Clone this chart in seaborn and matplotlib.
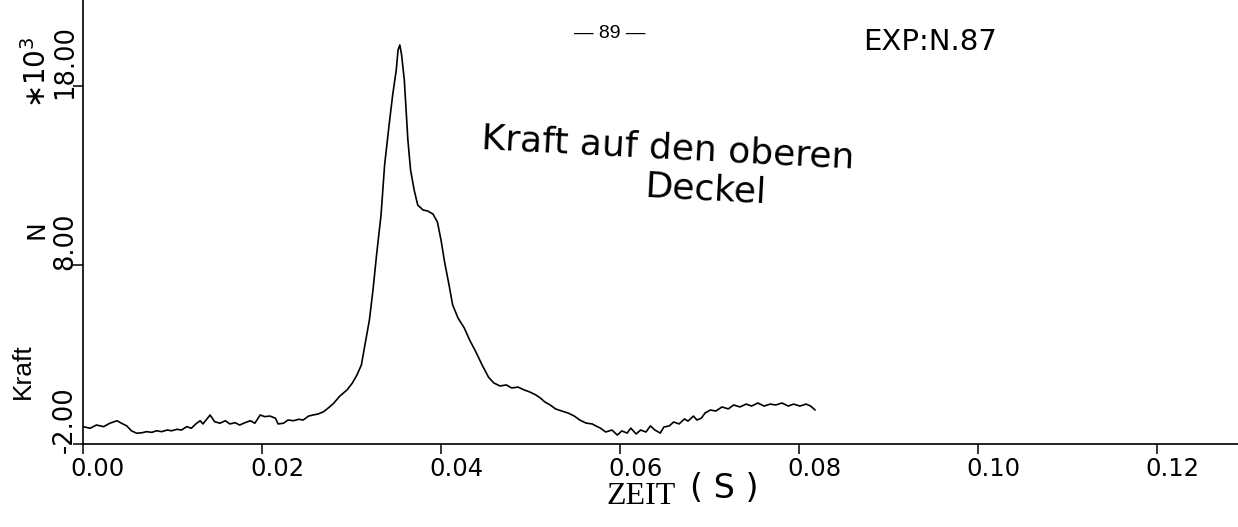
import matplotlib
matplotlib.use("Agg")
import matplotlib.pyplot as plt
import matplotlib.transforms as mtransforms
import pandas as pd
import seaborn as sns

# Force on the upper lid over time (time in s, force in 10^3 N)
zeit_s = [
    # quiet phase
    0.0000, 0.0008, 0.0015, 0.0023, 0.0030, 0.0038, 0.0043, 0.0049, 0.0054, 0.0060,
    0.0066, 0.0071, 0.0077, 0.0082, 0.0088, 0.0094, 0.0099, 0.0105, 0.0110, 0.0116,
    0.0121, 0.0127, 0.0131, 0.0134, 0.0142, 0.0147, 0.0153, 0.0159, 0.0164, 0.0170,
    0.0175, 0.0181, 0.0187, 0.0192, 0.0198, 0.0203, 0.0209, 0.0215, 0.0218, 0.0224,
    0.0229, 0.0235, 0.0241, 0.0246, 0.0252, 0.0257, 0.0263, 0.0269, 0.0274, 0.0280,
    # impact peak
    0.0287, 0.0295, 0.0301, 0.0306, 0.0311, 0.0315, 0.0320, 0.0324, 0.0328, 0.0333,
    0.0337, 0.0342, 0.0346, 0.0350, 0.0352, 0.0354, 0.0356, 0.0359, 0.0361, 0.0363,
    0.0366, 0.0370, 0.0374, 0.0380, 0.0385, 0.0391, 0.0396, 0.0400, 0.0404, 0.0409,
    0.0413, 0.0419, 0.0426, 0.0432, 0.0439, 0.0446, 0.0453,
    # decay
    0.0459, 0.0466, 0.0473, 0.0479, 0.0486, 0.0493, 0.0499, 0.0506, 0.0511, 0.0516,
    0.0522, 0.0528, 0.0535, 0.0542, 0.0549, 0.0555, 0.0562, 0.0569, 0.0573,
    # second rise
    0.0578, 0.0584, 0.0591, 0.0597, 0.0602, 0.0608, 0.0612, 0.0618, 0.0623, 0.0629,
    0.0634, 0.0639, 0.0645, 0.0649, 0.0655, 0.0660, 0.0666, 0.0672, 0.0676, 0.0682,
    0.0686, 0.0691, 0.0695, 0.0701, 0.0707, 0.0714, 0.0721, 0.0727, 0.0734, 0.0741,
    0.0747, 0.0754, 0.0761, 0.0768, 0.0774, 0.0781, 0.0788, 0.0794, 0.0801, 0.0808,
    0.0813, 0.0818,
]
kraft_kn = [
    -1.03, -1.12, -0.94, -1.03, -0.84, -0.70, -0.84, -0.99, -1.26, -1.40,
    -1.37, -1.31, -1.35, -1.26, -1.31, -1.22, -1.26, -1.18, -1.22, -1.03,
    -1.12, -0.84, -0.70, -0.88, -0.38, -0.75, -0.84, -0.70, -0.88, -0.81,
    -0.94, -0.81, -0.70, -0.84, -0.38, -0.47, -0.44, -0.56, -0.88, -0.84,
    -0.66, -0.70, -0.62, -0.66, -0.44, -0.38, -0.32, -0.19, 0.01, 0.27,
    0.68, 1.02, 1.41, 1.85, 2.41, 3.53, 4.93, 6.60, 8.56, 10.79,
    13.59, 15.82, 17.50, 18.89, 20.01, 20.29, 19.73, 18.34, 16.66, 14.98,
    13.31, 12.19, 11.35, 11.07, 11.02, 10.85, 10.40, 9.40, 8.17, 6.88,
    5.77, 5.04, 4.48, 3.81, 3.14, 2.41, 1.74,
    1.41, 1.24, 1.30, 1.13, 1.18, 1.02, 0.91, 0.74, 0.57, 0.35,
    0.18, -0.04, -0.16, -0.27, -0.44, -0.66, -0.83, -0.88, -0.99,
    -1.11, -1.33, -1.22, -1.50, -1.27, -1.39, -1.11, -1.44, -1.22, -1.33,
    -0.99, -1.22, -1.39, -1.05, -0.99, -0.77, -0.88, -0.60, -0.72, -0.44,
    -0.66, -0.55, -0.27, -0.10, -0.16, 0.07, -0.04, 0.18, 0.07, 0.23,
    0.12, 0.29, 0.12, 0.23, 0.18, 0.29, 0.12, 0.23, 0.12, 0.23,
    0.12, -0.10,
]

x_ticks = [0.00, 0.02, 0.04, 0.06, 0.08, 0.10, 0.12]
x_tick_labels = ["0.00", "0.02", "0.04", "0.06", "0.08", "0.10", "0.12"]
y_ticks = [-2, 8, 18]
y_tick_labels = ["-2.00", "8.00", "18.00"]

sns.set_theme(style="ticks")
plt.rcParams["font.family"] = ["DejaVu Sans"]
plt.rcParams["text.color"] = "black"

W, H = 1238, 527
fig = plt.figure(figsize=(W / 100, H / 100), dpi=100)
fig.patch.set_facecolor("white")

x0_px, y0_px = 83, 444          # position of the origin (0 s, -2 kN)
px_per_s, px_per_kn = 8950, 17.9
ax = fig.add_axes([x0_px / W, (H - y0_px) / H, 1 - x0_px / W, y0_px / H])
ax.set_facecolor("white")

df = pd.DataFrame({"zeit": zeit_s, "kraft": kraft_kn})
sns.lineplot(data=df, x="zeit", y="kraft", ax=ax, color="black",
             linewidth=1.2, sort=False, estimator=None)

ax.set_xlim(0, (W - x0_px) / px_per_s)
ax.set_ylim(-2, -2 + y0_px / px_per_kn)
ax.set_xlabel("")
ax.set_ylabel("")

for side in ("top", "right"):
    ax.spines[side].set_visible(False)
for side in ("left", "bottom"):
    ax.spines[side].set_color("black")
    ax.spines[side].set_linewidth(1.2)

ax.set_xticks(x_ticks, x_tick_labels)
ax.set_yticks(y_ticks, y_tick_labels)
ax.tick_params(axis="both", direction="out", length=7.2, width=1.1,
               color="black", labelcolor="black", labelsize=17.5)
ax.tick_params(axis="x", pad=2)
ax.tick_params(axis="y", pad=-3.5, labelsize=18.5)

# shift tick labels the way the plotter placed them
x_shift = mtransforms.ScaledTranslation(0.15, 0, fig.dpi_scale_trans)
for lab in ax.get_xticklabels():
    lab.set_transform(lab.get_transform() + x_shift)
y_shift = mtransforms.ScaledTranslation(0, 0.24, fig.dpi_scale_trans)
for lab in ax.get_yticklabels():
    lab.set_rotation(90)
    lab.set_verticalalignment("center")
    lab.set_transform(lab.get_transform() + y_shift)


def px(x, y):
    return x / W, 1 - y / H


# axis titles
fig.text(*px(641, 496), "ZEIT", family="Liberation Serif", fontsize=23,
         ha="center", va="center")
fig.text(*px(724, 489), "( S )", fontsize=24, ha="center", va="center")
fig.text(*px(23, 371), "Kraft", family="Liberation Sans", fontsize=19,
         rotation=90, ha="center", va="center")
fig.text(*px(37, 230), "N", fontsize=18, rotation=90, ha="center", va="center")
fig.text(*px(37, 72), r"$\ast$10$^3$", fontsize=20, rotation=90,
         ha="center", va="center")

# annotations
fig.text(*px(610, 34), "\u2014 89 \u2014", family="Liberation Sans",
         fontsize=14, ha="center", va="center")
fig.text(*px(930, 42), "EXP:N.87", fontsize=21, ha="center", va="center")
fig.text(*px(668, 148), "Kraft auf den oberen", fontsize=26, rotation=-3,
         ha="center", va="center", rotation_mode="anchor")
fig.text(*px(706, 190), "Deckel", fontsize=26, rotation=-3,
         ha="center", va="center", rotation_mode="anchor")

fig.savefig("out.png", dpi=100, facecolor="white")
